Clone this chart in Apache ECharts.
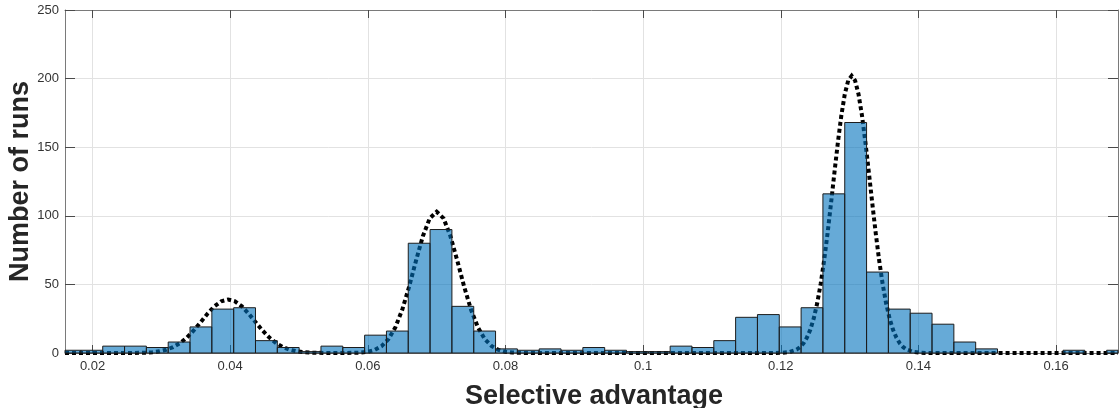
<!DOCTYPE html>
<html>
<head>
<meta charset="utf-8">
<script src="https://cdn.jsdelivr.net/npm/echarts@6/dist/echarts.min.js"></script>
<style>
html,body{margin:0;padding:0;background:#fff;}
#chart{width:1120px;height:408px;}
</style>
</head>
<body>
<div id="chart"></div>
<script>
// Histogram: bin edges start + width, counts per bin
const binStart = 0.01514;
const binWidth = 0.003171;
const binCounts = [2,2,5,5,4,8,19,32,33,9,
                   4,1,5,4,13,16,80,90,34,16,
                   3,2,3,2,4,2,1,1,5,4,
                   9,26,28,19,33,116,168,59,32,29,
                   21,8,3,0,0,0,2,0,2];

// Fitted curve (dotted line)
const curveX = [0.016,0.0257,
  0.0277,0.0287,0.0297,0.0307,0.0317,0.0327,0.0337,0.0347,0.0357,0.0367,0.0377,0.0387,0.0397,
  0.0407,0.0417,0.0427,0.0437,0.0447,0.0457,0.0467,0.0477,0.0487,0.0497,0.0507,0.0517,0.0537,
  0.0570,0.0590,0.0600,0.0610,0.0620,0.0630,0.0640,0.0650,0.0660,0.0670,0.0680,0.0690,0.0700,
  0.0710,0.0720,0.0730,0.0740,0.0750,0.0760,0.0770,0.0780,0.0790,0.0800,0.0810,0.0830,
  0.1193,0.1203,0.1213,0.1223,0.1228,0.1233,0.1238,0.1243,0.1248,0.1253,0.1258,0.1263,0.1268,
  0.1273,0.1278,0.1283,0.1288,0.1293,0.1298,0.1303,0.1308,0.1313,0.1318,0.1323,0.1328,0.1333,
  0.1338,0.1343,0.1348,0.1353,0.1358,0.1363,0.1368,0.1373,0.1378,0.1383,0.1393,0.1403,0.1413,0.169];
const curveY = [0,0,
  0.27,0.59,1.22,2.36,4.25,7.15,11.2,16.4,22.4,28.6,34.0,37.7,39.0,
  37.7,34.0,28.6,22.4,16.4,11.2,7.15,4.25,2.36,1.22,0.59,0.27,0,
  0,0.33,0.90,2.23,4.97,10.1,18.7,31.5,48.3,67.3,85.2,98.2,103,
  98.2,85.2,67.3,48.3,31.5,18.7,10.1,4.97,2.23,0.90,0.33,0,
  0,0.21,0.78,2.51,4.27,7.0,11.2,17.1,25.4,36.4,50.4,67.4,87.2,
  109.0,131.6,153.5,173.1,188.6,198.6,202,198.6,188.6,173.1,153.5,131.6,109.0,
  87.2,67.4,50.4,36.4,25.4,17.1,11.2,7.0,4.27,2.51,0.78,0.21,0,0];

const xTicks = [0.02,0.04,0.06,0.08,0.1,0.12,0.14,0.16];
const yTicks = [0,50,100,150,200,250];
const xLabel = 'Selective advantage';
const yLabel = 'Number of runs';

const FONT = 'Liberation Sans, Arial, Helvetica, sans-serif';
const chart = echarts.init(document.getElementById('chart'), null, {renderer:'canvas'});

const histData = binCounts.map((c,i)=>[binStart+i*binWidth, binStart+(i+1)*binWidth, c]);
const curveData = curveX.map((x,i)=>[x, curveY[i]]);

const axisLineColor = '#7a7a7a';
const tickColor = '#4a4a4a';

chart.setOption({
  animation:false,
  backgroundColor:'#fff',
  grid:{left:65, right:2, top:10, bottom:55, containLabel:false, outerBoundsMode:'none'},
  xAxis:[{
    type:'value', min:0.016, max:0.169, position:'bottom',
    axisLine:{show:true, onZero:false, lineStyle:{color:axisLineColor, width:1}},
    axisTick:{show:true, inside:true, length:8, customValues:xTicks, lineStyle:{color:tickColor}},
    axisLabel:{show:true, customValues:xTicks, margin:7, fontSize:13, color:'#333', fontFamily:FONT},
    splitLine:{show:true, lineStyle:{color:'#e2e2e2', width:1}},
    name:xLabel, nameLocation:'middle', nameGap:30,
    nameTextStyle:{fontSize:27, fontWeight:'bold', color:'#262626', fontFamily:FONT, padding:[0,0,0,5]}
  },{
    type:'value', min:0.016, max:0.169, position:'top',
    axisLine:{show:true, onZero:false, lineStyle:{color:axisLineColor, width:1}},
    axisTick:{show:true, inside:true, length:8, customValues:xTicks, lineStyle:{color:tickColor}},
    axisLabel:{show:false},
    splitLine:{show:false}
  }],
  yAxis:[{
    type:'value', min:0, max:250, interval:50, position:'left',
    axisLine:{show:true, onZero:false, lineStyle:{color:axisLineColor, width:1}},
    axisTick:{show:true, inside:true, length:10, lineStyle:{color:tickColor}},
    axisLabel:{show:true, margin:6, fontSize:13, color:'#333', fontFamily:FONT},
    splitLine:{show:true, lineStyle:{color:'#e2e2e2', width:1}},
    name:yLabel, nameLocation:'middle', nameGap:31, nameRotate:90, nameMoveOverlap:false,
    nameTextStyle:{fontSize:27, fontWeight:'bold', color:'#262626', fontFamily:FONT}
  },{
    type:'value', min:0, max:250, interval:50, position:'right',
    axisLine:{show:true, onZero:false, lineStyle:{color:axisLineColor, width:1}},
    axisTick:{show:true, inside:true, length:10, lineStyle:{color:tickColor}},
    axisLabel:{show:false},
    splitLine:{show:false}
  }],
  series:[{
    type:'line', xAxisIndex:0, yAxisIndex:0, data:curveData,
    showSymbol:false, symbol:'none', silent:true, z:1,
    lineStyle:{color:'#000', width:4, type:[4,3], cap:'butt', join:'miter'}
  },{
    type:'custom', xAxisIndex:0, yAxisIndex:0, data:histData, z:2, silent:true,
    encode:{x:[0,1], y:2},
    renderItem:function(params, api){
      const x0 = api.value(0), x1 = api.value(1), c = api.value(2);
      if (!(c > 0)) return null;
      const p0 = api.coord([x0, c]);
      const p1 = api.coord([x1, 0]);
      const cs = params.coordSys;
      const rect = echarts.graphic.clipRectByRect(
        {x:p0[0], y:p0[1], width:p1[0]-p0[0], height:p1[1]-p0[1]},
        {x:cs.x, y:cs.y, width:cs.width, height:cs.height});
      if (!rect) return null;
      return {type:'rect', shape:rect,
        style:{fill:'rgba(0,114,189,0.6)', stroke:'#1c1c1c', lineWidth:1}};
    }
  }]
});
</script>
</body>
</html>
